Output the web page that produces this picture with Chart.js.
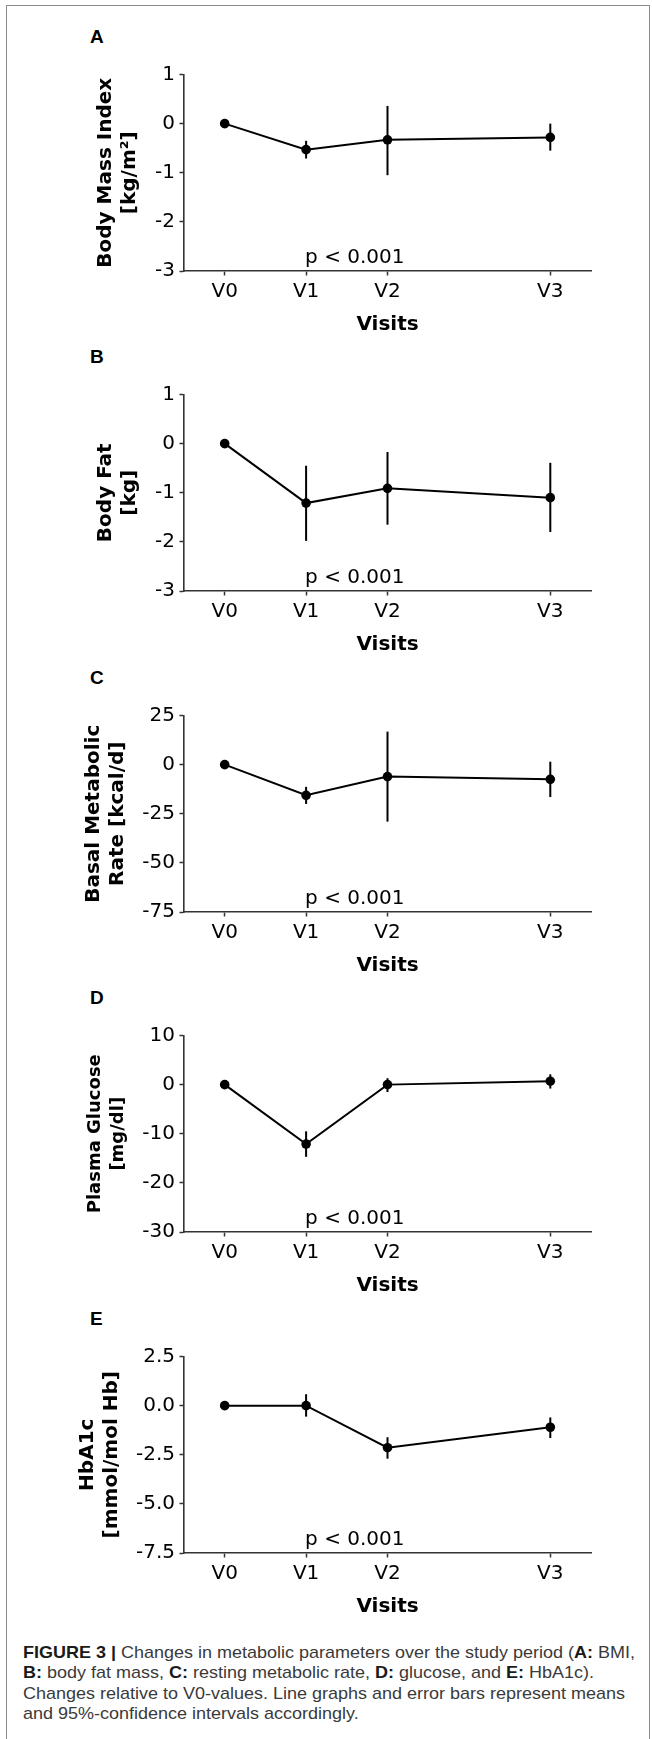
<!DOCTYPE html>
<html><head><meta charset="utf-8">
<script src="https://cdn.jsdelivr.net/npm/chart.js@4.4.1/dist/chart.umd.min.js"></script>
<style>
html,body{margin:0;padding:0;background:#fff;}
#page{position:relative;width:652px;height:1739px;overflow:hidden;background:#fff;}
.frame{position:absolute;left:6px;top:5px;width:644px;height:1800px;border:1.5px solid #8c8c8c;border-bottom:none;box-sizing:border-box;}
.letter{position:absolute;left:90px;font:bold 19px "Liberation Sans",Arial,sans-serif;line-height:19px;color:#000;}
.chartbox{position:absolute;left:0;width:652px;}
.cap{position:absolute;left:23px;white-space:nowrap;font:17px "Liberation Sans Narrow","Liberation Sans",Arial,sans-serif;color:#3a3a3a;line-height:20px;transform-origin:0 0;}
.cap b{color:#1a1a1a;}
</style></head>
<body><div id="page"><div class="frame"></div></div>
<script>
// ---- data ----
const visits = ['V0','V1','V2','V3'];
const visitPos = [0,1,2,4];

const bmiMean = [0,-0.53,-0.33,-0.28];
const bmiLow  = [0,-0.71,-1.05,-0.55];
const bmiHigh = [0,-0.35,0.36,0.0];
const bmiTicks = [-3,-2,-1,0,1];
const bmiTickLabels = ['-3','-2','-1','0','1'];

const fatMean = [0,-1.21,-0.91,-1.10];
const fatLow  = [0,-1.98,-1.65,-1.80];
const fatHigh = [0,-0.45,-0.17,-0.39];
const fatTicks = [-3,-2,-1,0,1];
const fatTickLabels = ['-3','-2','-1','0','1'];

const bmrMean = [0,-15.6,-6.1,-7.5];
const bmrLow  = [0,-20.0,-29.0,-16.5];
const bmrHigh = [0,-11.3,16.8,1.5];
const bmrTicks = [-75,-50,-25,0,25];
const bmrTickLabels = ['-75','-50','-25','0','25'];

const gluMean = [0,-12.1,0.0,0.7];
const gluLow  = [0,-14.7,-1.5,-0.8];
const gluHigh = [0,-9.5,1.3,2.1];
const gluTicks = [-30,-20,-10,0,10];
const gluTickLabels = ['-30','-20','-10','0','10'];

const hbMean = [0,0.0,-2.14,-1.10];
const hbLow  = [0,-0.56,-2.70,-1.65];
const hbHigh = [0,0.58,-1.61,-0.60];
const hbTicks = [-7.5,-5,-2.5,0,2.5];
const hbTickLabels = ['-7.5','-5.0','-2.5','0.0','2.5'];

const pText = 'p < 0.001';

// ---- panels ----
const panels = [
  {letter:'A', title:['Body Mass Index','[kg/m²]'], mean:bmiMean, low:bmiLow, high:bmiHigh, ticks:bmiTicks, labels:bmiTickLabels, top:73, tx:106, tfs:20},
  {letter:'B', title:['Body Fat','[kg]'], mean:fatMean, low:fatLow, high:fatHigh, ticks:fatTicks, labels:fatTickLabels, top:393, tx:106, tfs:20},
  {letter:'C', title:['Basal Metabolic','Rate [kcal/d]'], mean:bmrMean, low:bmrLow, high:bmrHigh, ticks:bmrTicks, labels:bmrTickLabels, top:713.5, tx:94, tfs:20},
  {letter:'D', title:['Plasma Glucose','[mg/dl]'], mean:gluMean, low:gluLow, high:gluHigh, ticks:gluTicks, labels:gluTickLabels, top:1034, tx:95.5, tfs:18},
  {letter:'E', title:['HbA1c','[mmol/mol Hb]'], mean:hbMean, low:hbLow, high:hbHigh, ticks:hbTicks, labels:hbTickLabels, top:1354.5, tx:88, tfs:20}
];

const errorBars = {
  id:'errorBars',
  beforeDatasetsDraw(chart, args, opts){
    const {ctx, scales:{x,y}} = chart;
    ctx.save(); ctx.strokeStyle='#000'; ctx.lineWidth=2; ctx.lineCap='butt';
    opts.low.forEach((lo,k)=>{
      const hi = opts.high[k];
      if (lo === hi) return;
      const px = x.getPixelForValue(visitPos[k]);
      ctx.beginPath(); ctx.moveTo(px, y.getPixelForValue(lo)); ctx.lineTo(px, y.getPixelForValue(hi)); ctx.stroke();
    });
    ctx.restore();
  }
};
const pLabel = {
  id:'pLabel',
  afterDraw(chart){
    const {ctx, scales:{x}, chartArea} = chart;
    ctx.save(); ctx.font='20px "DejaVu Sans"'; ctx.fillStyle='#000'; ctx.textAlign='left'; ctx.textBaseline='alphabetic';
    ctx.fillText(pText, x.getPixelForValue(1) - 1, chartArea.bottom - 8.5);
    ctx.restore();
  }
};

const page = document.getElementById('page');
const PT = 15, PH = 198, XH = 66;
panels.forEach(p => {
  const L = document.createElement('div'); L.className='letter'; L.textContent=p.letter;
  L.style.top = (p.top - 30 - 16) + 'px'; page.appendChild(L);
  const box = document.createElement('div'); box.className='chartbox';
  box.style.top = (p.top - PT) + 'px';
  const H = PT + PH + XH;
  const cv = document.createElement('canvas'); cv.width = 652; cv.height = H;
  cv.style.width='652px'; cv.style.height = H + 'px';
  box.appendChild(cv); page.appendChild(box);
  const lh = p.tfs === 20 ? 1.2 : 1.25;
  new Chart(cv, {
    type:'line',
    data:{datasets:[{
      data: visitPos.map((x,k)=>({x:x, y:p.mean[k]})),
      borderColor:'#000', borderWidth:2, pointRadius:4.8, pointBackgroundColor:'#000',
      pointBorderColor:'#000', pointBorderWidth:0, tension:0, fill:false, clip:false
    }]},
    options:{
      responsive:false, animation:false,
      layout:{padding:{top:PT, left:0, right:61, bottom:0}},
      plugins:{legend:{display:false}, tooltip:{enabled:false}, errorBars:{low:p.low, high:p.high}},
      scales:{
        x:{type:'linear', min:-0.5, max:4.5,
          afterBuildTicks: s => { s.ticks = visitPos.map(v=>({value:v})); },
          ticks:{callback:(v)=>visits[visitPos.indexOf(v)], color:'#000', font:{family:'DejaVu Sans', size:20}, padding:4, maxRotation:0, autoSkip:false},
          grid:{display:true, drawOnChartArea:false, drawTicks:true, tickLength:4.5, tickColor:'#333', tickWidth:1.5},
          border:{display:true, color:'#333', width:1.6},
          title:{display:true, text:'Visits', color:'#000', font:{family:'DejaVu Sans', size:20, weight:'bold', lineHeight:1.2}, padding:{top:0,bottom:0}},
          afterFit: s => { s.height = XH; }
        },
        y:{type:'linear', min:p.ticks[0], max:p.ticks[p.ticks.length-1],
          afterBuildTicks: s => { s.ticks = p.ticks.map(v=>({value:v})); },
          ticks:{callback:(v)=>p.labels[p.ticks.indexOf(v)], color:'#000', font:{family:'DejaVu Sans', size:20}, padding:4.5, autoSkip:false},
          grid:{display:true, drawOnChartArea:false, drawTicks:true, tickLength:4.5, tickColor:'#333', tickWidth:1.5},
          border:{display:true, color:'#333', width:1.6},
          title:{display:true, text:p.title, color:'#000', font:{family:'DejaVu Sans', size:p.tfs, weight:'bold', lineHeight:lh}, padding:{top:p.tx - p.tfs*lh/2, bottom:0}},
          afterFit: s => { s.width = 184; }
        }
      }
    },
    plugins:[errorBars, pLabel]
  });
});

// ---- caption ----
const capLines = [
  '<b>FIGURE 3 |</b> Changes in metabolic parameters over the study period (<b>A:</b> BMI,',
  '<b>B:</b> body fat mass, <b>C:</b> resting metabolic rate, <b>D:</b> glucose, and <b>E:</b> HbA1c).',
  'Changes relative to V0-values. Line graphs and error bars represent means',
  'and 95%-confidence intervals accordingly.'
];
const capEls = capLines.map((t,i)=>{
  const d = document.createElement('div'); d.className='cap'; d.innerHTML=t;
  d.style.top = (1642.5 + i*20.5) + 'px'; page.appendChild(d); return d;
});
const w0 = capEls[0].getBoundingClientRect().width;
const sc = 612 / w0;
capEls.forEach(d => { d.style.transform = 'scaleX(' + sc + ')'; });
</script>
</body></html>
